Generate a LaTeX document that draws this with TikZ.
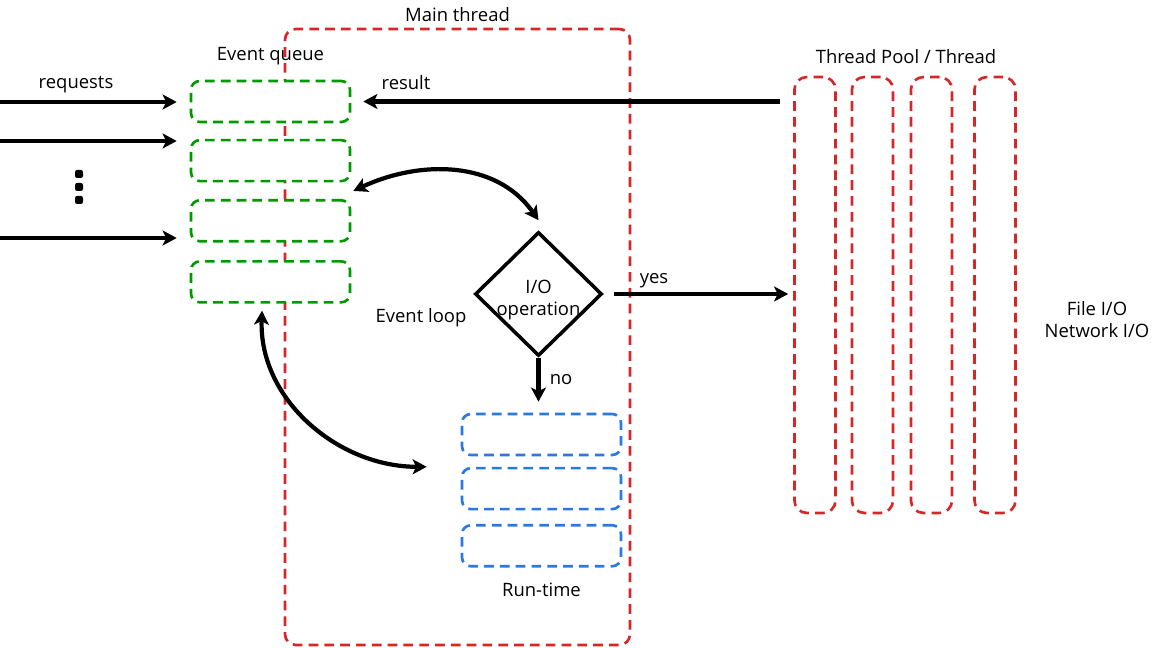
\documentclass[tikz,border=0pt]{standalone}
\usepackage{fontspec}
\setmainfont{Open Sans}
\usetikzlibrary{positioning, shapes.geometric, arrows.meta, calc}
\definecolor{queuegreen}{RGB}{0,153,0}
\definecolor{threadred}{RGB}{214,39,40}
\definecolor{runblue}{RGB}{43,120,228}

\begin{document}
\begin{tikzpicture}
    [
        x=0.02cm, y=0.02cm,
        every node/.style={font=\fontsize{10.5}{12.5}\selectfont},
        head/.tip={Stealth[length=8pt, width=8.5pt, inset=2pt]},
        flow/.style={line width=2.4pt, -head},
        twoway/.style={line width=2.4pt, head-head},
        dashbox/.style={draw, line width=1.5pt, dash pattern=on 5.5pt off 3.5pt,
                        inner sep=0pt},
        queue/.style={dashbox, draw=queuegreen, fill=white, rounded corners=5pt,
                      minimum width=3.18cm, minimum height=0.82cm},
        runtime/.style={dashbox, draw=runblue, fill=white, rounded corners=5pt,
                        minimum width=3.18cm, minimum height=0.82cm},
        thread/.style={dashbox, draw=threadred, rounded corners=7pt,
                       minimum width=0.82cm, minimum height=8.72cm},
        mainbox/.style={dashbox, draw=threadred, rounded corners=6pt,
                        minimum width=6.9cm, minimum height=12.32cm},
        decision/.style={diamond, draw, line width=2pt, aspect=1, inner sep=0pt,
                         minimum width=2.54cm, minimum height=2.48cm},
        dot/.style={rectangle, fill, rounded corners=1.2pt, minimum size=0.16cm,
                    inner sep=0pt}
    ]
    \useasboundingbox (0,0) rectangle (1167,-648);

    % main thread
    \node (main) [mainbox, label=above:Main thread] at (457.5,-337) {};

    % event queue
    \node (q1) [queue] at (270.5,-101.5) {};
    \node (q2) [queue, below=0.31cm of q1] {};
    \node (q3) [queue, below=0.33cm of q2] {};
    \node (q4) [queue, below=0.35cm of q3] {};
    \node (queuelabel) [above=0.18cm of q1] {Event queue};

    % run-time
    \node (r1) [runtime] at (541.5,-434.5) {};
    \node (r2) [runtime, below=0.21cm of r1] {};
    \node (r3) [runtime, below=0.27cm of r2] {};
    \node (runlabel) [below=0.18cm of r3] {Run-time};

    % thread pool
    \foreach \x [count=\i] in {815,872.5,931.5,995}
        \node (t\i) [thread] at (\x,-295) {};
    \node (poollabel) at (906,-57) {Thread Pool / Thread};
    \node (iolabel) [align=center] at (1097,-320) {File I/O\\Network I/O};

    % decision
    \node (io) [decision] at (538.5,-294) {};
    \node (iotext) [align=center] at ([yshift=-0.13cm]io.center) {I/O\\operation};
    \node (looplabel) at (421,-318) {Event loop};

    % incoming requests
    \coordinate (in1) at (0,-102);
    \coordinate (in2) at (0,-141);
    \coordinate (in3) at (0,-238);
    \draw[flow, shorten >=0.26cm] (in1) -- (in1 -| q1.west);
    \draw[flow, shorten >=0.26cm] (in2) -- (in2 -| q2.west);
    \draw[flow, shorten >=0.26cm] (in3) -- (in3 -| q3.west);
    \node (reqlabel) at (76,-85) {requests};
    \foreach \y [count=\i] in {174,187,200}
        \node (dot\i) [dot] at (79,-\y) {};

    % result back to the queue
    \draw[flow, shorten <=0.26cm, shorten >=0.24cm] (t1.west |- q1.east) -- (q1.east);
    \node (resultlabel) at (406,-83) {result};

    % event loop
    \draw[twoway] ([xshift=0.04cm, yshift=-0.17cm]q2.south east)
        to[out=25, in=125] ([yshift=0.2cm]io.north);
    \draw[twoway] ([xshift=-0.17cm, yshift=-0.14cm]q4.south)
        to[out=-92, in=180] ([xshift=-0.68cm]r2.north west);

    % yes / no
    \draw[flow, shorten <=0.2cm, shorten >=0.1cm] (io.east) -- (io.east -| t1.west);
    \node (yeslabel) at (654,-281) {yes};
    \draw[flow, shorten >=0.22cm] (io.south) -- (io.south |- r1.north);
    \node (nolabel) at (561,-380) {no};
\end{tikzpicture}
\end{document}
